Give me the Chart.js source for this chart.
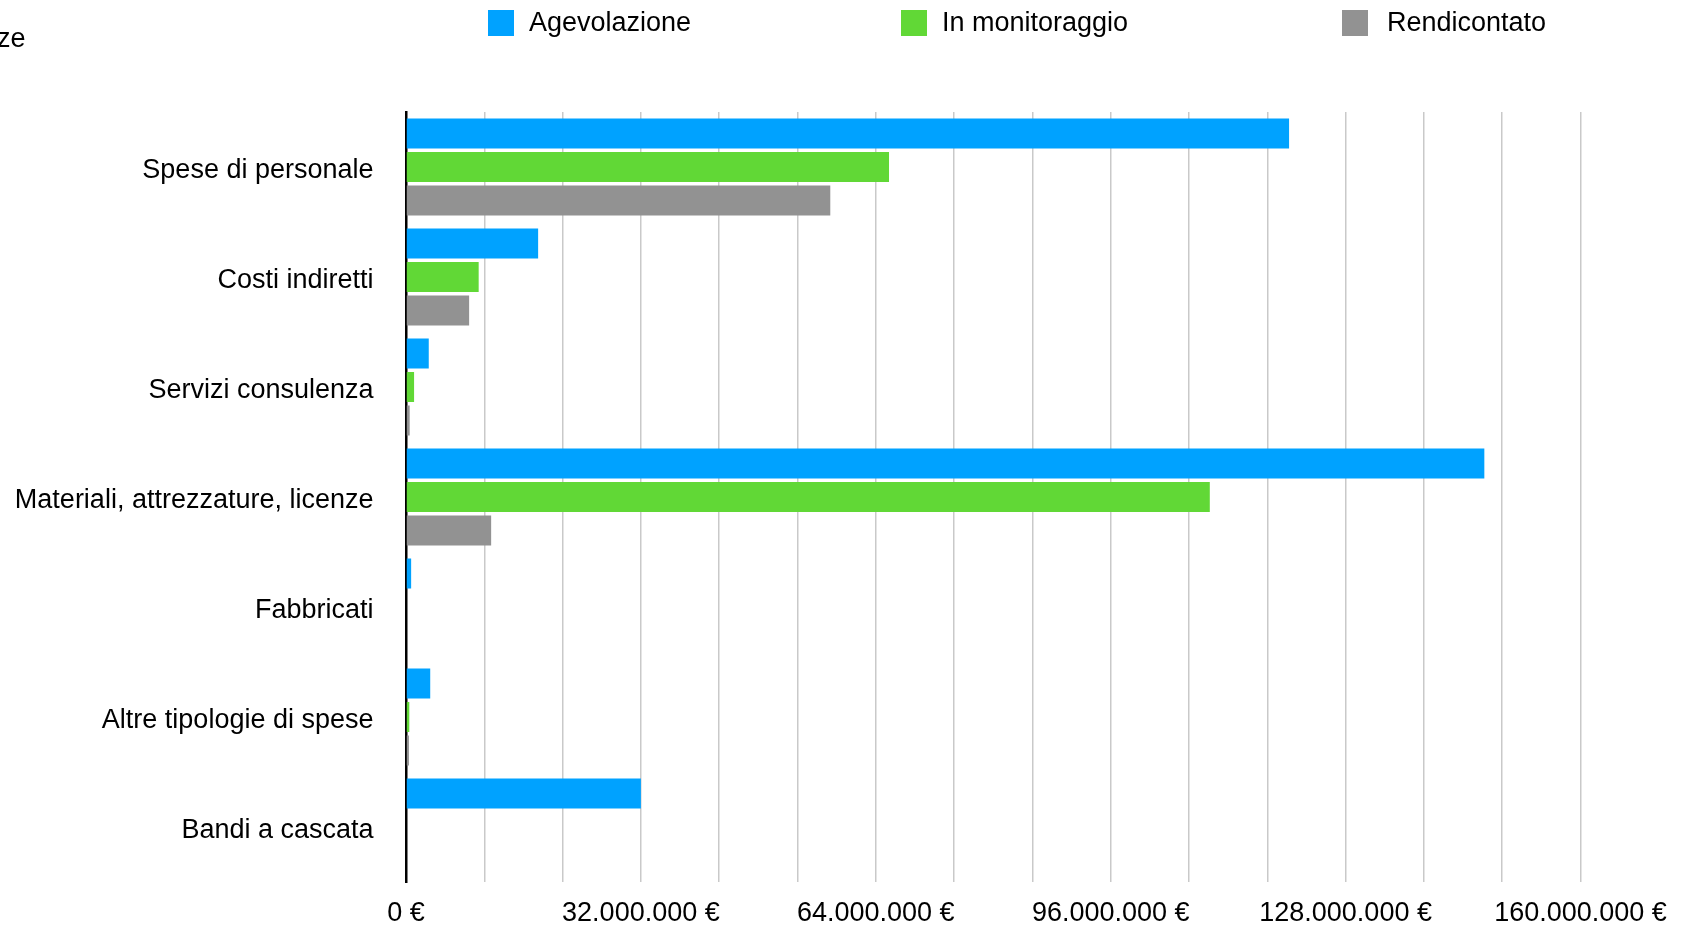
<!DOCTYPE html>
<html>
<head>
<meta charset="utf-8">
<script src="https://cdn.jsdelivr.net/npm/chart.js@4/dist/chart.umd.min.js"></script>
<style>
  html, body { margin: 0; padding: 0; background: #fff; }
  #wrap { position: relative; width: 1696px; height: 927px; overflow: hidden; font-family: "Liberation Sans", Arial, Helvetica, sans-serif; }
  #c { position: absolute; left: 0; top: 0; }
  .leg { position: absolute; top: 1px; height: 43px; display: flex; align-items: center; font-size: 27px; color: #000; white-space: nowrap; }
  .leg .box { width: 26px; height: 26px; margin-right: 15px; }
  #cut { position: absolute; left: -3px; top: 23px; font-size: 27px; color: #000; }
</style>
</head>
<body>
<div id="wrap">
  <canvas id="c" width="1696" height="927"></canvas>
  <div id="cut">ze</div>
  <div id="legend"></div>
</div>
<script>
const categories = [
  "Spese di personale",
  "Costi indiretti",
  "Servizi consulenza",
  "Materiali, attrezzature, licenze",
  "Fabbricati",
  "Altre tipologie di spese",
  "Bandi a cascata"
];
const seriesNames = ["Agevolazione", "In monitoraggio", "Rendicontato"];
const agevolazione   = [120300000, 18000000, 3100000, 146900000, 700000, 3300000, 32000000];
const inMonitoraggio = [65800000, 9900000, 1100000, 109500000, 0, 450000, 0];
const rendicontato   = [57800000, 8600000, 500000, 11600000, 0, 400000, 0];
const seriesColors = ["#00A2FF", "#61D836", "#929292"];
const labelTicks = [0, 32000000, 64000000, 96000000, 128000000, 160000000];
const gridStep = 32000000 / 3;

function fmtEuro(v) {
  const n = Math.round(v).toString().replace(/\B(?=(\d{3})+(?!\d))/g, ".");
  return n + " €";
}

// HTML legend
const legendX = [488, 901, 1342];
const legendGap = [15, 15, 19];
const legendEl = document.getElementById("legend");
seriesNames.forEach((name, i) => {
  const d = document.createElement("div");
  d.className = "leg";
  d.style.left = legendX[i] + "px";
  d.innerHTML = '<span class="box" style="background:' + seriesColors[i] + ';margin-right:' + legendGap[i] + 'px"></span><span>' + name + '</span>';
  legendEl.appendChild(d);
});

const font = { family: '"Liberation Sans", Arial, Helvetica, sans-serif', size: 27 };
const seriesData = [agevolazione, inMonitoraggio, rendicontato];

new Chart(document.getElementById("c"), {
  type: "bar",
  data: {
    labels: categories,
    datasets: seriesNames.map((n, i) => ({
      label: n,
      data: seriesData[i],
      backgroundColor: seriesColors[i],
      borderWidth: 0,
      barPercentage: 0.892,
      categoryPercentage: 0.913
    }))
  },
  options: {
    indexAxis: "y",
    responsive: false,
    animation: false,
    devicePixelRatio: 1,
    layout: { padding: { left: 0, right: 115.5, top: 112, bottom: 0 } },
    plugins: { legend: { display: false }, tooltip: { enabled: false }, title: { display: false } },
    scales: {
      x: {
        min: 0,
        max: 160000000,
        afterBuildTicks: (scale) => {
          const t = [];
          for (let i = 0; i <= 15; i++) t.push({ value: i * gridStep });
          scale.ticks = t;
        },
        afterFit: (scale) => { scale.height = 45; },
        ticks: {
          autoSkip: false,
          maxRotation: 0,
          padding: 15,
          color: "#000",
          font: font,
          callback: function (value, index) {
            if (index % 3 !== 0) return "";
            return fmtEuro(labelTicks[index / 3]);
          }
        },
        grid: {
          drawTicks: false,
          lineWidth: 1.5,
          color: (ctx) => (ctx.index === 0 ? "rgba(0,0,0,0)" : "#c9c9c9")
        },
        border: { display: false }
      },
      y: {
        afterFit: (scale) => {
          scale.width = 406;
          scale.paddingTop = 0;
          scale.paddingBottom = 0;
        },
        ticks: { color: "#000", font: font, padding: 32.5, labelOffset: 3.5 },
        grid: { display: false, drawTicks: false },
        border: { display: true, color: "#000", width: 2.5 }
      }
    }
  }
});
</script>
</body>
</html>
